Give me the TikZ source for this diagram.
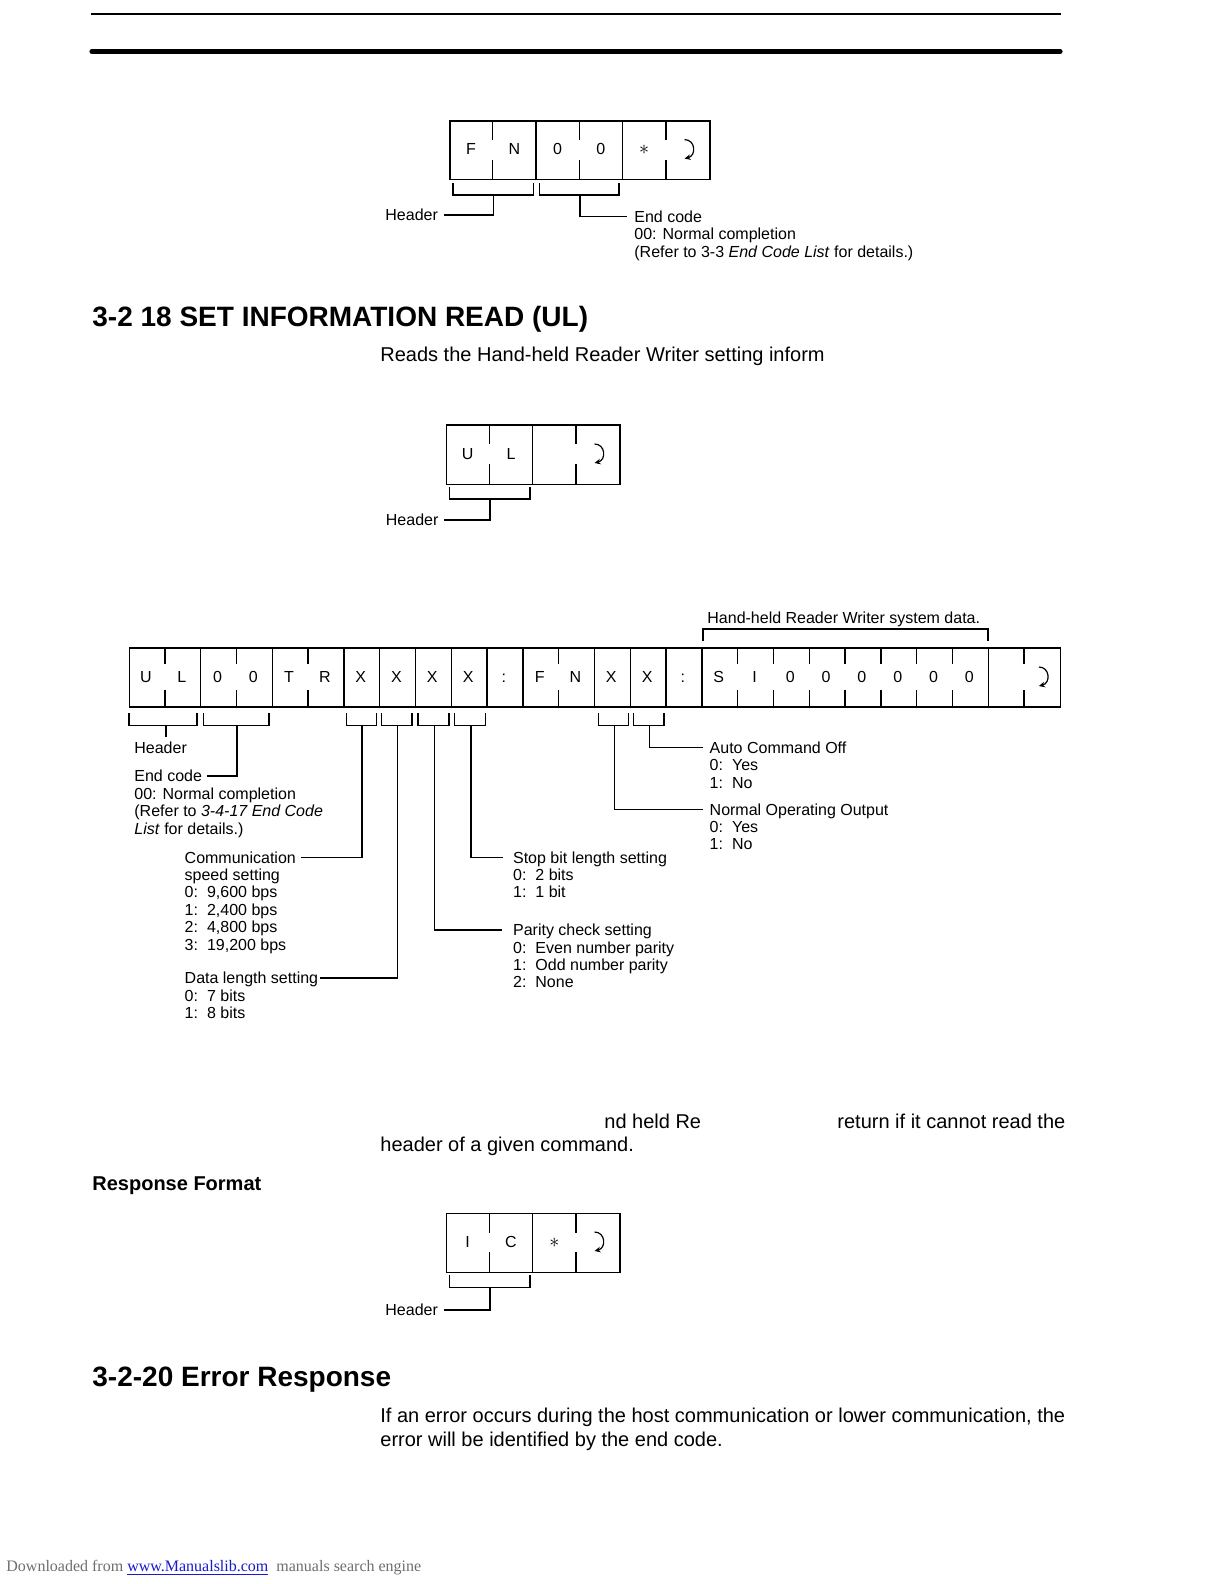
\documentclass[tikz,border=0pt]{standalone}
\usepackage{fontspec}
\setmainfont{Liberation Sans}
\newfontfamily\footserif{Liberation Serif}
\usetikzlibrary{arrows.meta}
\definecolor{footgray}{RGB}{110,110,110}
\definecolor{linkblue}{RGB}{25,25,205}
\newcommand{\optline}[2]{#1:\hspace{4.5pt}#2}
\newcommand{\bigast}{{\fontsize{10}{10}\selectfont$\ast$}}
\begin{document}
\begin{tikzpicture}[x=0.5pt,y=-0.5pt,
  lbl/.style={anchor=west,inner sep=0pt,font=\fontsize{8}{9.6}\selectfont,text height=5.75pt,text depth=0pt},
  celltxt/.style={inner sep=0pt,font=\fontsize{8}{9.6}\selectfont,text height=5.75pt,text depth=0pt},
  bodytxt/.style={anchor=west,inner sep=0pt,font=\fontsize{10}{12}\selectfont,text height=7.16pt,text depth=0pt},
  headtxt/.style={anchor=west,inner sep=0pt,font=\fontsize{14}{16.8}\selectfont\bfseries,text height=10pt,text depth=0pt},
  subtxt/.style={anchor=west,inner sep=0pt,font=\fontsize{10}{12}\selectfont\bfseries,text height=7.16pt,text depth=0pt},
  framebox/.style={draw,line width=0.7pt,inner sep=0pt,anchor=north west},
  divider/.style={line width=0.7pt},
  bracket/.style={line width=0.6pt},
  conn/.style={line width=0.6pt},
  retarrow/.style={line width=0.6pt,-{Stealth[length=3pt,width=2.8pt]}},
  retsym/.pic={\draw[retarrow] (-3,-10) .. controls (8,-10) and (9,6) .. (-3,9);}
]
\fill[white] (0,0) rectangle (1224,1584);
\useasboundingbox (0,0) rectangle (1224,1584);

% page rules
\draw[line width=1pt] (91,14) -- (1061,14);
\draw[line width=2.6pt,line cap=round] (92,51.5) -- (1060,51.5);

% ---------- Box 1 : F N 0 0 * return ----------
\node[framebox,minimum width=129.95pt,minimum height=29.4pt] (box1) at (449.3,120.2) {};
\foreach \k in {2,4} \draw[divider] ({449.3+43.32*\k},120.2) -- ++(0,58.8);
\foreach \k in {1,3,5} \draw[divider] ({449.3+43.32*\k},120.2) -- ++(0,19.5) ({449.3+43.32*\k},179) -- ++(0,-19.5);
\foreach \t [count=\i] in {F,N,0,0,\bigast} \node[celltxt] (bA\i) at ({449.3+43.32*(\i-0.5)},149) {\t};
\pic at ({449.3+43.32*5.5},149.6) {retsym};
\draw[bracket] (452.9,183) |- (533.6,195) -- (533.6,183);
\coordinate (bAhs) at (493.2,195);
\node[lbl] (bAhdr) at (385,215) {Header};
\draw[conn,shorten >=2.8pt] (bAhs) |- (bAhdr.east);
\draw[bracket] (539.3,183) |- (619,195) -- (619,183);
\coordinate (bAes) at (580,195);
\node[lbl] (bAend) at (634,216.5) {End code};
\node[lbl] (bAend2) at (634,234) {00: Normal completion};
\node[lbl] (bAend3) at (634,251.5) {(Refer to 3-3 \textit{End Code List} for details.)};
\draw[conn,shorten >=3.5pt] (bAes) |- (bAend.west);

% ---------- heading ----------
\node[headtxt] (head1) at (92,316) {3-2 18 SET INFORMATION READ (UL)};
\node[bodytxt] (body1) at (380,354.5) {Reads the Hand-held Reader Writer setting inform};

% ---------- Box 2 : U L _ return ----------
\node[framebox,minimum width=86.6pt,minimum height=29.8pt] (box2) at (446,424.2) {};
\draw[divider] ({446+43.3*2},424.2) -- ++(0,59.6);
\foreach \k in {1,3} \draw[divider] ({446+43.3*\k},424.2) -- ++(0,20) ({446+43.3*\k},483.8) -- ++(0,-20);
\foreach \t [count=\i] in {U,L} \node[celltxt] (bB\i) at ({446+43.3*(\i-0.5)},454) {\t};
\pic at ({446+43.3*3.5},454) {retsym};
\draw[bracket] (449.4,487) |- (530,499) -- (530,487);
\coordinate (bBhs) at (490,499);
\node[lbl] (bBhdr) at (385.5,520) {Header};
\draw[conn,shorten >=2.8pt] (bBhs) |- (bBhdr.east);

% ---------- Box 3 : full command ----------
\node[lbl] (sysdata) at (707,618) {Hand-held Reader Writer system data.};
\draw[bracket] (703,640.5) |- (988,629) -- (988,640.5);
\node[framebox,minimum width=465.4pt,minimum height=29.5pt] (box3) at (129,647.3) {};
\foreach \k in {2,4,6,7,8,9,10,11,13,14,15,16,24}
  \draw[divider] ({129+35.8*\k},647.3) -- ++(0,59);
\foreach \k in {1,3,5,12,17,18,19,20,21,22,23,25}
  \draw[divider] ({129+35.8*\k},647.3) -- ++(0,16.5) ({129+35.8*\k},706.3) -- ++(0,-16.5);
\foreach \t [count=\i] in {U,L,0,0,T,R,X,X,X,X,:,F,N,X,X,:,S,I,0,0,0,0,0,0}
  \node[celltxt] (bC\i) at ({129+35.8*(\i-0.5)-1},677) {\t};
\pic at ({129+35.8*25.5},677) {retsym};

% brackets under box 3
\draw[bracket] (129,713) |- (197,725.6) -- (197,713);
\draw[bracket] (203.3,713) |- (269,725.6) -- (269,713);
\draw[bracket] (346.3,713) |- (376.3,725.6) -- (376.3,713);
\draw[bracket] (381.7,713) |- (412,725.6) -- (412,713);
\draw[bracket] (418,713) |- (449,725.6) -- (449,713);
\draw[bracket] (454.3,713) |- (485.3,725.6) -- (485.3,713);
\draw[bracket] (598.3,713) |- (628.3,725.6) -- (628.3,713);
\draw[bracket] (633.2,713) |- (664,725.6) -- (664,713);
\coordinate (sHdr) at (166,725.6);
\coordinate (sEnd) at (237,725.6);
\coordinate (sCom) at (362,725.6);
\coordinate (sDat) at (397.8,725.6);
\coordinate (sPar) at (434.8,725.6);
\coordinate (sStp) at (471,725.6);
\coordinate (sNoo) at (614.3,725.6);
\coordinate (sAco) at (649.6,725.6);

% labels
\node[lbl] (lHdr) at (134,747.5) {Header};
\node[lbl] (lEnd) at (134,776) {End code};
\node[lbl] (lEnd2) at (134,793.5) {00: Normal completion};
\node[lbl] (lEnd3) at (134,811) {(Refer to \textit{3-4-17 End Code}};
\node[lbl] (lEnd4) at (134,828.3) {\textit{List} for details.)};

\node[lbl] (lCom) at (184.3,857.3) {Communication};
\node[lbl] (lCom2) at (184.3,874.7) {speed setting};
\node[lbl] (lCom3) at (184.3,892.1) {\optline{0}{9,600 bps}};
\node[lbl] (lCom4) at (184.3,909.5) {\optline{1}{2,400 bps}};
\node[lbl] (lCom5) at (184.3,926.9) {\optline{2}{4,800 bps}};
\node[lbl] (lCom6) at (184.3,944.3) {\optline{3}{19,200 bps}};

\node[lbl] (lDat) at (184.3,978) {Data length setting};
\node[lbl] (lDat2) at (184.3,995.4) {\optline{0}{7 bits}};
\node[lbl] (lDat3) at (184.3,1012.8) {\optline{1}{8 bits}};

\node[lbl] (lStp) at (512.7,857.3) {Stop bit length setting};
\node[lbl] (lStp2) at (512.7,874.7) {\optline{0}{2 bits}};
\node[lbl] (lStp3) at (512.7,892.1) {\optline{1}{1 bit}};

\node[lbl] (lPar) at (512.7,930) {Parity check setting};
\node[lbl] (lPar2) at (512.7,947.4) {\optline{0}{Even number parity}};
\node[lbl] (lPar3) at (512.7,964.8) {\optline{1}{Odd number parity}};
\node[lbl] (lPar4) at (512.7,982.2) {\optline{2}{None}};

\node[lbl] (lAco) at (709.3,747.5) {Auto Command Off};
\node[lbl] (lAco2) at (709.3,764.9) {\optline{0}{Yes}};
\node[lbl] (lAco3) at (709.3,782.3) {\optline{1}{No}};

\node[lbl] (lNoo) at (709.3,809.3) {Normal Operating Output};
\node[lbl] (lNoo2) at (709.3,826.7) {\optline{0}{Yes}};
\node[lbl] (lNoo3) at (709.3,844.1) {\optline{1}{No}};

% connectors
\draw[conn,shorten >=2.2pt] (sHdr) -- (sHdr |- lHdr.north);
\draw[conn,shorten >=2.2pt] (sEnd) |- (lEnd.east);
\draw[conn,shorten >=2.3pt] (sCom) |- (lCom.east);
\draw[conn,shorten >=0.6pt] (sDat) |- (lDat.east);
\draw[conn,shorten >=5.5pt] (sPar) |- (lPar.west);
\draw[conn,shorten >=5pt] (sStp) |- (lStp.west);
\draw[conn,shorten >=3pt] (sNoo) |- (lNoo.west);
\draw[conn,shorten >=3pt] (sAco) |- (lAco.west);

% ---------- response text ----------
\node[bodytxt] (body2a) at (604,1121) {nd held Re};
\node[bodytxt] (body2b) at (837,1121) {return if it cannot read the};
\node[bodytxt] (body2c) at (380,1144) {header of a given command.};
\node[subtxt] (respfmt) at (92,1183.5) {Response Format};

% ---------- Box 4 : I C * return ----------
\node[framebox,minimum width=86.6pt,minimum height=29.25pt] (box4) at (446,1213) {};
\draw[divider] ({446+43.3*2},1213) -- ++(0,58.5);
\foreach \k in {1,3} \draw[divider] ({446+43.3*\k},1213) -- ++(0,20) ({446+43.3*\k},1271.5) -- ++(0,-20);
\foreach \t [count=\i] in {I,C,\bigast} \node[celltxt] (bD\i) at ({446+43.3*(\i-0.5)},1242) {\t};
\pic at ({446+43.3*3.5},1242) {retsym};
\draw[bracket] (449.4,1274.5) |- (530,1287.6) -- (530,1274.5);
\coordinate (bDhs) at (490,1287.6);
\node[lbl] (bDhdr) at (385,1310) {Header};
\draw[conn,shorten >=2.8pt] (bDhs) |- (bDhdr.east);

% ---------- heading 2 ----------
\node[headtxt] (head2) at (92,1376.5) {3-2-20 Error Response};
\node[bodytxt] (body3a) at (380,1415) {If an error occurs during the host communication or lower communication, the};
\node[bodytxt] (body3b) at (380,1439) {error will be identified by the end code.};

% footer
\node[anchor=west,inner sep=0pt,font=\footserif\fontsize{8}{10}\selectfont,text=footgray,text height=5.3pt,text depth=0pt] (foot) at (6,1566)
  {Downloaded from \textcolor{linkblue}{\underline{www.Manualslib.com}}\ \ manuals search engine};
\end{tikzpicture}
\end{document}
